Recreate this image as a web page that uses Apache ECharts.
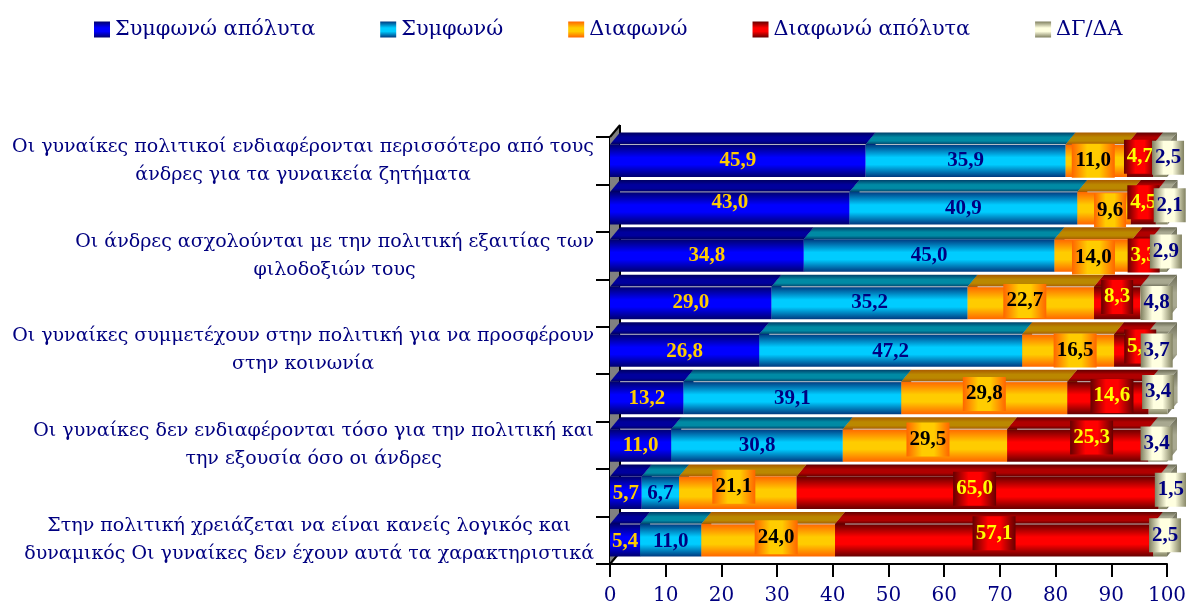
<!DOCTYPE html>
<html>
<head>
<meta charset="utf-8">
<title>chart</title>
<style>
  html, body {margin: 0; padding: 0; background: #fff;}
  #chart {width: 1186px; height: 605px;}
</style>
<script src="https://cdn.jsdelivr.net/npm/echarts@6/dist/echarts.min.js"></script>
</head>
<body>
<div id="chart"></div>
<script>
const categories = [
  'Οι γυναίκες πολιτικοί ενδιαφέρονται περισσότερο από τους\nάνδρες για τα γυναικεία ζητήματα',
  '',
  'Οι άνδρες ασχολούνται με την πολιτική εξαιτίας των\nφιλοδοξιών τους',
  '',
  'Οι γυναίκες συμμετέχουν στην πολιτική για να προσφέρουν\nστην κοινωνία',
  '',
  'Οι γυναίκες δεν ενδιαφέρονται τόσο για την πολιτική και\nτην εξουσία όσο οι άνδρες',
  '',
  'Στην πολιτική χρειάζεται να είναι κανείς λογικός και\nδυναμικός Οι γυναίκες δεν έχουν αυτά τα χαρακτηριστικά'
];
const seriesNames = ['Συμφωνώ απόλυτα', 'Συμφωνώ', 'Διαφωνώ', 'Διαφωνώ απόλυτα', 'ΔΓ/ΔΑ'];
const stronglyAgree = [45.9, 43.0, 34.8, 29.0, 26.8, 13.2, 11.0, 5.7, 5.4];
const agree = [35.9, 40.9, 45.0, 35.2, 47.2, 39.1, 30.8, 6.7, 11.0];
const disagree = [11.0, 9.6, 14.0, 22.7, 16.5, 29.8, 29.5, 21.1, 24.0];
const stronglyDisagree = [4.7, 4.5, 3.3, 8.3, 5.8, 14.6, 25.3, 65.0, 57.1];
const noAnswer = [2.5, 2.1, 2.9, 4.8, 3.7, 3.4, 3.4, 1.5, 2.5];
const xTicks = [0, 10, 20, 30, 40, 50, 60, 70, 80, 90, 100];

// the original puts its value labels a bit off centre, nudges in px per series
const labelDx = [
  [0, 0, 0, 0, 0, 0, 0, 0, 0],
  [0, 0, 0, 0, 0, 0, 0, 0, 0],
  [-3, 6, 0, -6, 7, 0, 3, -4, 8],
  [0, 0, 2, 0, 10, 4, 14, -3, 0],
  [8, 8, 7, 3, 0, 0, -1, 8, 5]
];
const labelDy = [
  [0, -6, 0, 0, 1, 1, 0, 1, 1],
  [0, 0, 0, 0, 1, 1, 0, 1, 1],
  [0, 2, 2, -2, 0, -4, -6, -6, -3],
  [-4, -6, 0, -6, -4, -2, -8, -4, -7],
  [-3, -3, -4, 0, 0, -6, -2, -3, -5]
];
// rows with the thin light line along the front edge
const edgeRows = [0, 1, 3, 4, 5, 6, 8];

const gridColors = [
  {edge: '#00006e', mid: '#0000ff', topEdge: '#000060', topMid: '#00009c', box: false, text: '#ffcc00'},
  {edge: '#003a80', mid: '#00ccff', topEdge: '#00406a', topMid: '#008aa4', box: false, text: '#000080'},
  {edge: '#ff6600', mid: '#ffcc00', topEdge: '#a85a00', topMid: '#bb8800', box: true, text: '#000000'},
  {edge: '#660000', mid: '#ff0000', topEdge: '#600000', topMid: '#b00000', box: true, text: '#ffff00'},
  {edge: '#808060', mid: '#ffffe0', topEdge: '#6a6a54', topMid: '#a8a890', box: true, text: '#000080'}
];
const DEPTH_X = 10;
const DEPTH_Y = 12;
const FRONT_H = 32.5;
const TEXT_FONT = '"DejaVu Serif", serif';

function stripes(c, x2, y2, lo, hi) {
  return {
    type: 'linear', x: 0, y: 0, x2: x2, y2: y2,
    colorStops: [
      {offset: 0, color: c.edge}, {offset: lo, color: c.mid},
      {offset: hi, color: c.mid}, {offset: 1, color: c.edge}
    ]
  };
}

function topFace(c) {
  return {
    type: 'linear', x: 0, y: 0, x2: 0, y2: 1,
    colorStops: [
      {offset: 0, color: c.topEdge}, {offset: 0.4, color: c.topMid},
      {offset: 0.7, color: c.topMid}, {offset: 1, color: c.topEdge}
    ]
  };
}

function makeSegment(s) {
  const c = gridColors[s];
  return function (params, api) {
    const row = api.value(1);
    const left = api.coord([api.value(0), row]);
    const right = api.coord([api.value(0) + api.value(2), row]);
    const x0 = left[0];
    const x1 = right[0];
    const yTop = left[1] - FRONT_H / 2;
    const yBot = left[1] + FRONT_H / 2;
    const children = [
      {
        type: 'polygon', z2: s,
        shape: {points: [[x0, yTop], [x0 + DEPTH_X, yTop - DEPTH_Y], [x1 + DEPTH_X, yTop - DEPTH_Y], [x1, yTop]]},
        style: {fill: topFace(c)}
      },
      {
        type: 'polygon', z2: s,
        shape: {points: [[x1, yTop], [x1 + DEPTH_X, yTop - DEPTH_Y], [x1 + DEPTH_X, yBot - DEPTH_Y], [x1, yBot]]},
        style: {fill: topFace(c)}
      },
      {
        type: 'rect', z2: s + 0.5,
        shape: {x: x0, y: yTop, width: x1 - x0, height: FRONT_H},
        style: {fill: stripes(c, 0, 1, 0.4, 0.62)}
      }
    ];
    if (edgeRows.indexOf(row) >= 0) {
      children.push({
        type: 'line', z2: s + 0.6,
        shape: {x1: x0 + DEPTH_X, y1: yTop, x2: x1, y2: yTop},
        style: {stroke: 'rgba(205,205,205,0.85)', lineWidth: 1}
      });
    }
    const text = api.value(2).toFixed(1).replace('.', ',');
    const cx = (x0 + x1) / 2 + labelDx[s][row];
    const cy = left[1] + labelDy[s][row];
    if (c.box) {
      const w = text.length > 3 ? 43 : 32;
      children.push({
        type: 'rect', z2: 10 + s * 2,
        shape: {x: cx - w / 2, y: cy - 17, width: w, height: 34},
        style: {fill: stripes(c, 1, 0, 0.36, 0.64)}
      });
    }
    children.push({
      type: 'text', z2: 11 + s * 2,
      style: {
        x: cx, y: cy, text: text, fill: c.text,
        font: 'bold 21px "Liberation Serif", serif',
        align: 'center', verticalAlign: 'middle'
      }
    });
    return {type: 'group', children: children};
  };
}

function renderWall(params) {
  const g = params.coordSys;
  const l = g.x;
  const t = g.y;
  const b = g.y + g.height;
  return {
    type: 'group',
    children: [
      {
        type: 'polygon',
        shape: {points: [[l, t], [l + DEPTH_X, t - DEPTH_Y], [l + DEPTH_X, b - DEPTH_Y], [l, b]]},
        style: {fill: '#808080'}
      },
      {type: 'line', shape: {x1: l, y1: t, x2: l + DEPTH_X, y2: t - DEPTH_Y}, style: {stroke: '#000', lineWidth: 2}},
      {type: 'line', shape: {x1: l + DEPTH_X, y1: t - DEPTH_Y, x2: l + DEPTH_X, y2: b - DEPTH_Y}, style: {stroke: '#000', lineWidth: 2}},
      {type: 'line', shape: {x1: l, y1: b, x2: l + DEPTH_X, y2: b - DEPTH_Y}, style: {stroke: '#000', lineWidth: 2}}
    ]
  };
}

const allValues = [stronglyAgree, agree, disagree, stronglyDisagree, noAnswer];
const running = categories.map(() => 0);
const series = [{
  type: 'custom',
  silent: true,
  clip: false,
  z: 1,
  renderItem: renderWall,
  data: [[0, 0]],
  encode: {x: 0, y: 1}
}];
allValues.forEach((values, s) => {
  const data = values.map((v, row) => {
    const item = [running[row], row, v];
    running[row] += v;
    return item;
  });
  series.push({
    name: seriesNames[s],
    type: 'custom',
    clip: false,
    z: 2,
    renderItem: makeSegment(s),
    itemStyle: {color: stripes(gridColors[s], 0, 1, 0.4, 0.62)},
    encode: {x: 0, y: 1},
    data: data
  });
});

const chart = echarts.init(document.getElementById('chart'));
const option = {
  animation: false,
  backgroundColor: '#ffffff',
  textStyle: {fontFamily: TEXT_FONT},
  legend: {
    data: seriesNames,
    left: 94,
    top: 19,
    padding: 0,
    icon: 'rect',
    itemWidth: 16,
    itemHeight: 16,
    itemGap: 65,
    selectedMode: false,
    textStyle: {color: '#000080', fontSize: 20.8, fontFamily: TEXT_FONT}
  },
  grid: {left: 610, top: 137, width: 557, height: 427, outerBoundsMode: 'none'},
  xAxis: {
    type: 'value',
    min: xTicks[0],
    max: xTicks[xTicks.length - 1],
    interval: xTicks[1] - xTicks[0],
    splitLine: {show: false},
    axisLine: {show: true, lineStyle: {color: '#000', width: 2}},
    axisTick: {show: true, length: 13, lineStyle: {color: '#000', width: 2}},
    axisLabel: {color: '#000080', fontSize: 20, margin: 22, fontFamily: TEXT_FONT}
  },
  yAxis: {
    type: 'category',
    inverse: true,
    data: categories,
    axisLine: {show: true, onZero: false, lineStyle: {color: '#000', width: 2}},
    axisTick: {show: true, length: 14, lineStyle: {color: '#000', width: 2}},
    axisLabel: {
      interval: 0,
      margin: 16,
      color: '#000080',
      formatter: function (value) {
        return value.split('\n').map((line) => '{t|' + line + '}').join('\n');
      },
      rich: {
        t: {align: 'center', color: '#000080', fontSize: 19, lineHeight: 28, fontFamily: TEXT_FONT}
      }
    }
  },
  series: series
};
chart.setOption(option);
</script>
</body>
</html>
